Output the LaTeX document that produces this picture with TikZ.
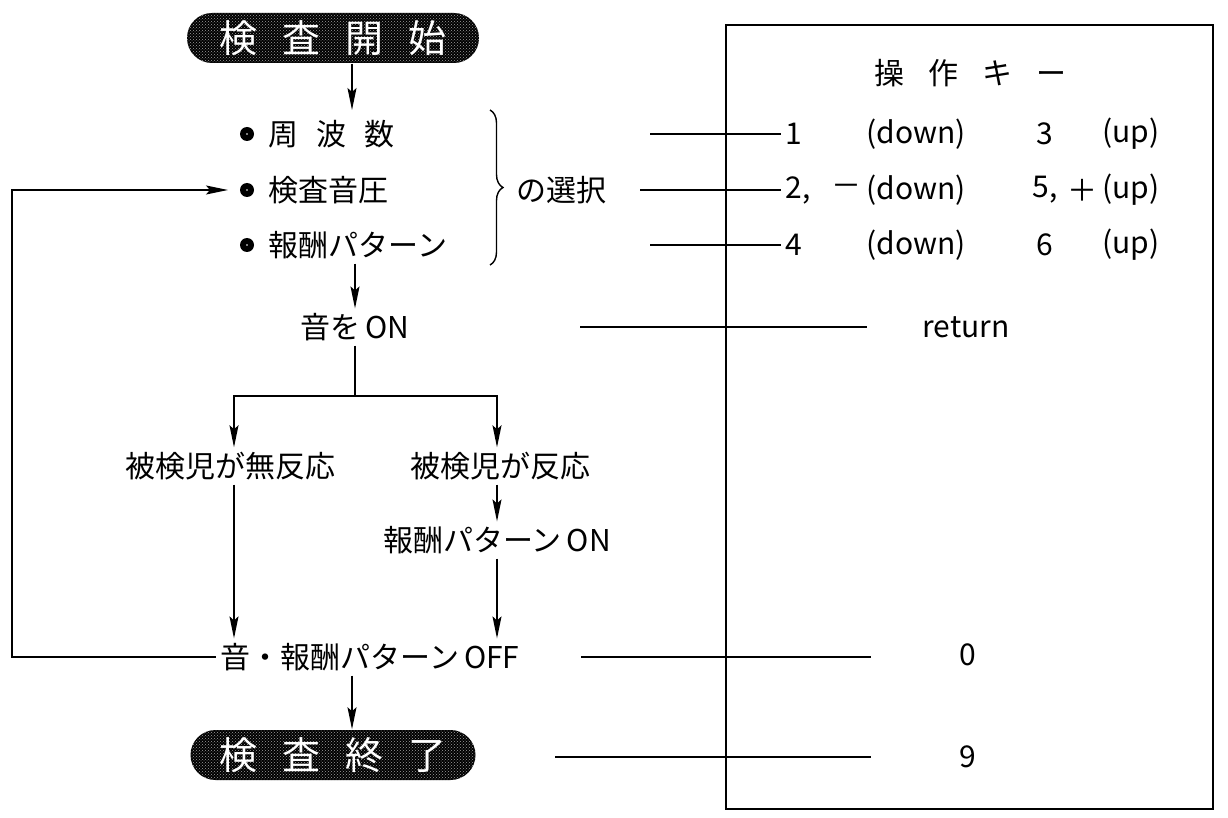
\documentclass[tikz,border=0pt]{standalone}
\usepackage{fontspec}
\setmainfont{Noto Sans CJK JP}
\usetikzlibrary{arrows.meta,patterns,decorations.pathreplacing,shapes.misc}
\begin{document}
\begin{tikzpicture}[x=1pt,y=-1pt,
  line width=1.5pt,
  every node/.style={font=\fontsize{30}{34}\selectfont, inner sep=4pt},
  arr/.style={-{Stealth[length=22pt,width=9pt,inset=4pt]}},
  term/.style={rounded rectangle, minimum width=300pt, minimum height=50pt,
    preaction={fill=black}, pattern=crosshatch dots, pattern color=gray!75,
    text=white, font=\fontsize{38}{42}\selectfont},
  keybox/.style={draw, line width=1.5pt, minimum width=487pt, minimum height=784pt, inner sep=0pt},
  lead/.style={line width=1.5pt}
]
\path[use as bounding box] (0,0) rectangle (1228,818);

% terminals
\node[term] (start) at (333,38) {検\hspace{0.65em}査\hspace{0.65em}開\hspace{0.65em}始};
\node[term, minimum width=293pt] (end) at (333,755) {検\hspace{0.65em}査\hspace{0.65em}終\hspace{0.65em}了};

% selection list
\foreach \n/\y in {b1/134, b2/190, b3/245} {
  \fill (247,\y) circle (7pt);
  \fill[white] (247,\y) circle (0.9pt);
  \coordinate (\n) at (247,\y);
}
\node[anchor=west] (f1) at (264,134) {周\hspace{0.6em}波\hspace{0.6em}数};
\node[anchor=west] (f2) at (264,190) {検査音圧};
\node[anchor=west] (f3) at (264,245) {報酬パターン};
\draw[decorate, decoration={brace, amplitude=13pt}, line width=1.4pt] (490,110) -- (490,265);
\node[anchor=west] (sel) at (512,190) {の選択};

\coordinate (a0) at (352,110);
\draw[arr] (start.south -| a0) -- (a0);

% flow
\node (on) at (355,327) {音を\,ON};
\draw[arr] (on.north |- f3.south) -- (on.north);
\coordinate (sp) at (355,396);
\draw (on.south) -- (sp);
\node (nr) at (230,466) {被検児が無反応};
\node (r) at (500,466) {被検児が反応};
\coordinate (nra) at (234,466);
\coordinate (ra) at (497,466);
\draw[arr] (sp) -| (nr.north -| nra);
\draw[arr] (sp) -| (r.north -| ra);
\node (rp) at (497,540) {報酬パターン\,ON};
\draw[arr] (r.south -| ra) -- (rp.north -| ra);
\node (off) at (370,657) {音・報酬パターン\,OFF};
\draw[arr] (nr.south -| nra) -- (off.north -| nra);
\draw[arr] (rp.south -| ra) -- (off.north -| ra);
\coordinate (lp) at (12,657);
\coordinate (b2w) at (228,190);
\draw[arr] (off.west) -- (lp) |- (b2w);
\draw[arr] (off.south -| a0) -- (end.north -| a0);

% key box
\node[keybox] (box) at (969.5,417) {};
\node (hdr) at (970,73) {操\hspace{0.8em}作\hspace{0.8em}キ\hspace{0.8em}ー};

\node[anchor=west] (k1) at (781,134) {1};
\node (d1) at (916,134) {(down)};
\node (n3) at (1045,134) {3};
\node (u1) at (1131,134) {(up)};

\node[anchor=west] (k2) at (781,190) {2,};
\node (m2) at (846,190) {－};
\node (d2) at (916,190) {(down)};
\node (n5) at (1045,190) {5,};
\node (p5) at (1082,190) {＋};
\node (u2) at (1131,190) {(up)};

\node[anchor=west] (k3) at (781,245) {4};
\node (d3) at (916,245) {(down)};
\node (n6) at (1045,245) {6};
\node (u3) at (1131,245) {(up)};

\node (ret) at (966,327) {return};
\node (k0) at (968,655) {0};
\node (k9) at (968,757) {9};

\coordinate (l1) at (650,134);
\coordinate (l2) at (640,190);
\coordinate (l3) at (650,245);
\draw[lead] (l1) -- (k1.west);
\draw[lead] (l2) -- (k2.west);
\draw[lead] (l3) -- (k3.west);
\coordinate (lr1) at (580,327);
\coordinate (lr2) at (867,327);
\draw[lead] (lr1) -- (lr2);
\coordinate (l01) at (581,657);
\coordinate (l02) at (871,657);
\draw[lead] (l01) -- (l02);
\coordinate (l91) at (555,757);
\coordinate (l92) at (871,757);
\draw[lead] (l91) -- (l92);
\end{tikzpicture}
\end{document}
